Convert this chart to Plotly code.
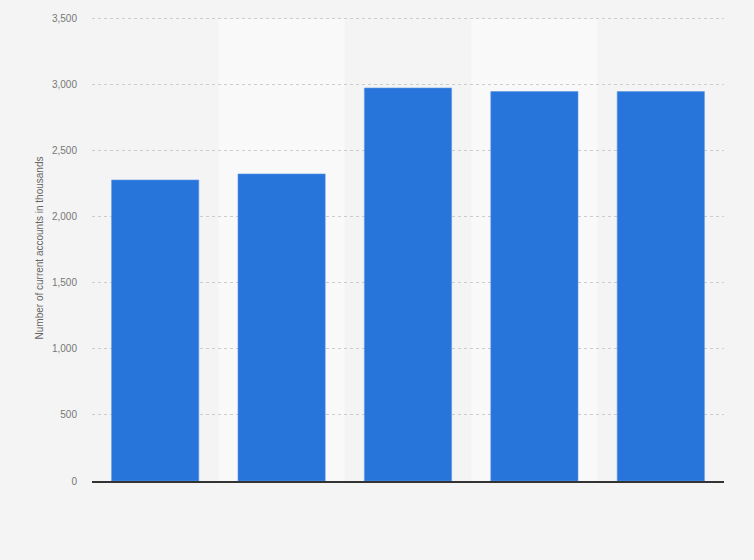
import plotly.graph_objects as go

years = ["2017", "2018", "2019", "2020", "2021"]
accounts = [2280, 2326, 2977, 2950, 2950]
y_ticks = [0, 500, 1000, 1500, 2000, 2500, 3000, 3500]
y_labels = ["0", "500", "1,000", "1,500", "2,000", "2,500", "3,000", "3,500"]

fig = go.Figure()
fig.add_trace(go.Bar(
    x=years,
    y=accounts,
    marker=dict(color="#2775db", line=dict(color="#5d97e6", width=0.6)),
    width=0.69,
))

# lighter bands behind every second category
for i in range(1, len(years), 2):
    fig.add_shape(type="rect", xref="x", yref="y",
                  x0=i - 0.5, x1=i + 0.5, y0=0, y1=3500,
                  fillcolor="#f9f9f9", line=dict(width=0), layer="below")

fig.update_layout(
    width=754, height=560,
    paper_bgcolor="#f4f4f4",
    plot_bgcolor="#f4f4f4",
    margin=dict(l=92, r=30, t=15, b=79),
    font=dict(family="Liberation Sans, Arial", size=10, color="#666666"),
    showlegend=False,
)
fig.update_xaxes(
    showticklabels=False, showgrid=False, ticks="",
    showline=True, linecolor="#333333", linewidth=1.5,
    range=[-0.5, 4.5],
)
fig.update_yaxes(
    range=[0, 3530], tickvals=y_ticks, ticktext=y_labels,
    showgrid=True, gridcolor="#cccccc", griddash="dot", gridwidth=0.8,
    zeroline=False, ticks="", ticklabelstandoff=14,
    title=dict(text="Number of current accounts in thousands",
               font=dict(size=10, color="#666666"), standoff=6),
    tickfont=dict(size=10, color="#777777"),
)

fig.write_html("out.html", config={"displayModeBar": False},
               post_script="document.body.style.margin='0';")
